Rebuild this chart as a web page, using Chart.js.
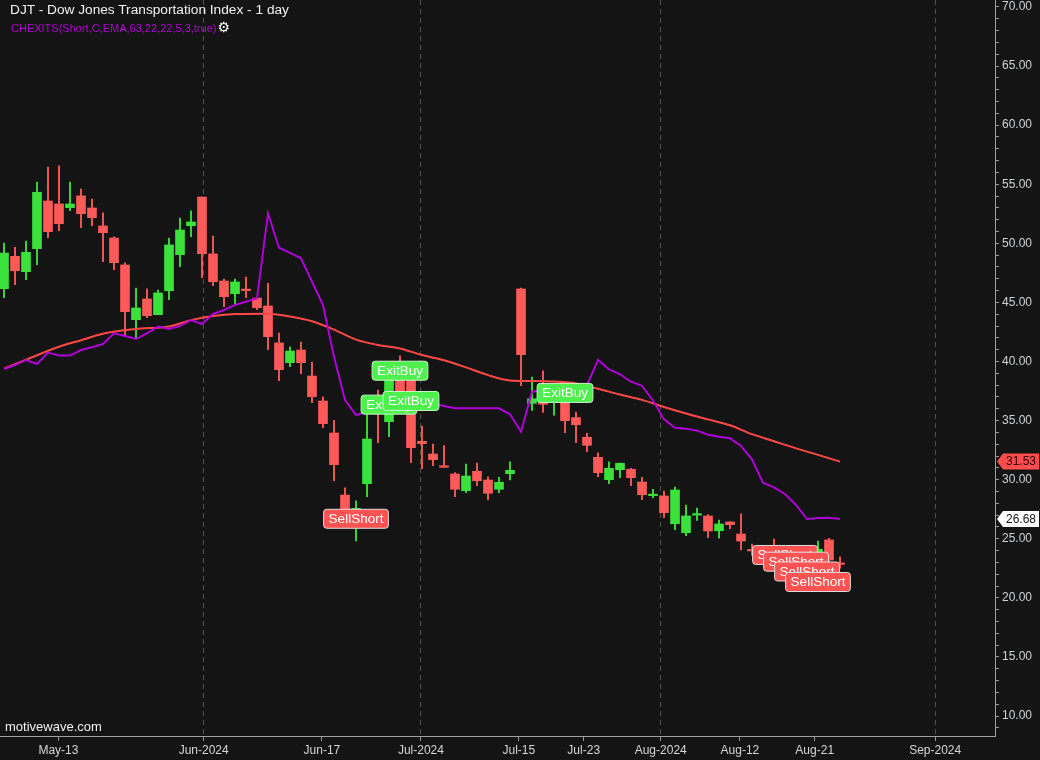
<!DOCTYPE html>
<html>
<head>
<meta charset="utf-8">
<script src="https://cdn.jsdelivr.net/npm/chart.js@4.4.1/dist/chart.umd.min.js"></script>
<style>
  html, body { margin: 0; padding: 0; background: #141414; }
  #wrap { position: relative; width: 1040px; height: 760px; overflow: hidden; }
  .txt { position: absolute; font-family: "Liberation Sans", Arial, sans-serif; white-space: nowrap; }
  #title { left: 10px; top: 2px; font-size: 13.7px; line-height: 16px; color: #f2f2f2; }
  #study { left: 11px; top: 20px; font-size: 11px; line-height: 14px; color: #b400d4; }
  #gear { color: #ffffff; font-size: 14px; font-family: "DejaVu Sans", sans-serif; margin-left: 1px; }
  #brand { left: 5px; top: 719px; font-size: 13px; line-height: 16px; color: #f0f0f0; }
</style>
</head>
<body>
<div id="wrap">
  <canvas id="chart"></canvas>
  <div class="txt" id="title">DJT - Dow Jones Transportation Index - 1 day</div>
  <div class="txt" id="study">CHEXITS(Short,C,EMA,63,22,22,5,3,true)<span id="gear">⚙</span></div>
  <div class="txt" id="brand">motivewave.com</div>
</div>
<script>
// daily bars, index 0 = first bar on screen
const opens  = [46.16, 48.90, 47.60, 49.55, 53.58, 53.33, 53.02, 54.01, 52.99, 51.47,
                50.45, 48.17, 43.54, 45.29, 43.96, 45.99, 49.04, 51.49, 53.92, 49.10,
                46.81, 45.74, 46.05, 45.37, 44.70, 41.57, 39.90, 40.97, 38.77, 36.66,
                33.95, 28.70, 26.60, 29.66, 36.90, 34.91, 39.20, 38.60, 33.25, 32.17,
                31.08, 30.48, 29.07, 30.71, 29.97, 29.19, 30.51, 46.14, 36.46, 36.45,
                36.60, 36.80, 35.25, 33.59, 31.89, 30.00, 30.84, 30.88, 29.80, 28.65,
                28.62, 26.27, 25.51, 27.00, 26.93, 25.68, 26.42, 25.40, 24.02, 24.10,
                24.20, 24.00, 23.80, 23.60, 23.70, 24.90, 22.95];
const highs  = [50.03, 49.66, 50.20, 55.19, 56.46, 56.55, 55.19, 54.60, 53.75, 52.57,
                50.54, 48.34, 46.22, 46.14, 46.05, 50.45, 52.14, 52.74, 53.92, 50.62,
                46.98, 46.98, 47.15, 45.40, 46.62, 42.41, 41.23, 41.65, 39.96, 37.00,
                35.03, 29.30, 28.20, 35.56, 37.59, 39.80, 40.47, 39.30, 34.54, 33.02,
                32.88, 30.59, 31.33, 31.41, 30.25, 30.20, 31.50, 46.22, 38.69, 39.22,
                37.80, 37.20, 35.73, 33.92, 32.28, 31.50, 31.40, 30.96, 30.20, 29.19,
                29.04, 29.38, 27.86, 27.60, 27.04, 26.59, 26.45, 27.10, 24.54, 24.40,
                24.98, 24.30, 24.10, 24.20, 24.81, 25.04, 23.48];
const lows   = [45.40, 46.50, 46.92, 48.19, 50.48, 51.07, 52.76, 51.32, 51.49, 48.45,
                47.77, 42.10, 42.02, 43.71, 43.96, 45.23, 48.02, 50.56, 47.09, 46.42,
                44.64, 44.81, 45.40, 44.38, 41.00, 38.38, 39.56, 38.97, 36.51, 34.40,
                29.91, 27.00, 24.81, 28.56, 33.13, 33.64, 36.00, 31.44, 30.93, 31.18,
                31.05, 28.56, 28.90, 29.49, 28.28, 28.90, 29.97, 37.95, 35.87, 35.70,
                35.45, 33.98, 33.13, 32.37, 30.25, 29.66, 30.17, 29.49, 28.31, 28.45,
                26.78, 25.77, 25.26, 26.56, 25.09, 25.04, 25.85, 24.05, 23.60, 23.60,
                23.60, 23.50, 23.30, 23.30, 23.40, 23.00, 22.50];
const closes = [49.18, 47.68, 49.24, 54.32, 50.99, 51.66, 53.33, 52.51, 52.17, 50.90,
                48.36, 44.22, 44.53, 43.88, 45.80, 49.86, 51.13, 51.81, 49.12, 46.75,
                45.48, 46.73, 46.00, 44.55, 42.10, 39.31, 40.89, 39.90, 37.02, 34.74,
                31.27, 27.40, 27.57, 33.44, 35.80, 39.00, 36.60, 32.71, 33.05, 31.69,
                31.05, 29.19, 30.31, 29.91, 28.85, 29.78, 30.79, 40.58, 36.85, 36.38,
                37.20, 34.99, 34.65, 32.91, 30.59, 30.96, 31.39, 30.17, 28.73, 28.70,
                27.21, 29.13, 26.93, 27.06, 25.66, 26.25, 26.19, 24.81, 23.97, 23.90,
                24.00, 23.80, 23.60, 23.90, 24.11, 23.20, 22.83];

// EMA(63) read at a subset of bars
const emaIdx = [0, 2, 5, 7, 9, 12, 15, 17, 19, 21, 24, 26, 28, 30, 32, 34, 36, 38, 40,
                42, 44, 46, 48, 50, 52, 54, 56, 58, 60, 62, 64, 66, 68, 70, 72, 74, 76];
const emaVal = [39.40, 40.15, 41.25, 41.80, 42.35, 42.75, 42.97, 43.50, 43.85, 44.02,
                44.05, 43.80, 43.40, 42.70, 41.85, 41.40, 41.10, 40.55, 40.10, 39.50,
                38.85, 38.40, 38.35, 38.30, 38.15, 37.70, 37.20, 36.75, 36.15, 35.60,
                35.10, 34.60, 33.85, 33.25, 32.65, 32.10, 31.53];

// CHEXITS line, one value per bar
const exitLine = [39.35, 39.70, 40.13, 39.79, 40.75, 40.50, 40.50, 40.97, 41.20, 41.48,
                  42.39, 42.15, 41.90, 42.39, 42.95, 42.75, 43.00, 43.51, 43.17, 44.02,
                  44.36, 44.78, 45.06, 45.35, 52.54, 49.63, 49.20, 48.73, 46.75, 44.78,
                  40.40, 36.74, 35.47, 35.75, 35.90, 36.20, 36.50, 36.60, 36.60, 36.45,
                  36.24, 36.04, 36.04, 36.04, 36.04, 36.04, 35.53, 34.06, 37.45, 37.55,
                  37.65, 37.75, 37.85, 38.00, 40.13, 39.34, 38.92, 38.29, 37.95, 36.70,
                  35.10, 34.40, 34.30, 34.15, 33.80, 33.64, 33.50, 32.85, 31.72, 29.75,
                  29.35, 28.79, 27.86, 26.67, 26.76, 26.78, 26.68];

// time axis labels (bar index positions)
const tickPos   = [4.95, 18.15, 28.9, 37.9, 46.8, 52.7, 59.7, 66.9, 73.7, 84.65];
const tickText  = ['May-13', 'Jun-2024', 'Jun-17', 'Jul-2024', 'Jul-15', 'Jul-23',
                   'Aug-2024', 'Aug-12', 'Aug-21', 'Sep-2024'];
const tickMonth = [false, true, false, true, false, false, true, false, false, true];

// signal markers
const sigIdx   = [32, 35, 36, 37, 51, 71, 72, 73, 74];
const sigPrice = [26.69, 36.35, 39.22, 36.66, 37.34, 23.63, 23.06, 22.23, 21.34];
const sigText  = ['SellShort', 'ExitBuy', 'ExitBuy', 'ExitBuy', 'ExitBuy',
                  'SellShort', 'SellShort', 'SellShort', 'SellShort'];

const UP = '#3ce23c';
const DOWN = '#ff5a5a';
const FONT = '"Liberation Sans", Arial, sans-serif';

Chart.defaults.font.family = FONT;

const barColors = opens.map((o, i) => closes[i] >= o ? UP : DOWN);

const signalLabels = {
  id: 'signalLabels',
  afterDatasetsDraw(chart) {
    const {ctx, scales: {x, y}} = chart;
    ctx.save();
    ctx.font = '13.5px ' + FONT;
    ctx.textAlign = 'center';
    ctx.textBaseline = 'middle';
    sigIdx.forEach((idx, k) => {
      const cx = x.getPixelForValue(idx);
      const cy = y.getPixelForValue(sigPrice[k]);
      const w = ctx.measureText(sigText[k]).width + 10;
      const h = 19;
      const buy = sigText[k] === 'ExitBuy';
      ctx.beginPath();
      ctx.roundRect(cx - w / 2, cy - h / 2, w, h, 3);
      ctx.fillStyle = buy ? '#4ef04e' : '#ff5252';
      ctx.fill();
      ctx.lineWidth = 1;
      ctx.strokeStyle = buy ? '#c8f5c8' : '#dddddd';
      ctx.stroke();
      ctx.fillStyle = '#ffffff';
      ctx.fillText(sigText[k], cx, cy + 0.5);
    });
    ctx.restore();
  }
};

const valueTags = {
  id: 'valueTags',
  afterDraw(chart) {
    const {ctx, scales: {y}} = chart;
    const tags = [
      [emaVal[emaVal.length - 1], '#ff4d4d', '#2a0000'],
      [exitLine[exitLine.length - 1], '#ffffff', '#111111']
    ];
    ctx.save();
    ctx.font = '12px ' + FONT;
    ctx.textAlign = 'right';
    ctx.textBaseline = 'middle';
    tags.forEach(([v, bg, fg]) => {
      const py = y.getPixelForValue(v);
      const x0 = y.left + 2;
      ctx.beginPath();
      ctx.moveTo(x0, py);
      ctx.lineTo(x0 + 6, py - 8);
      ctx.lineTo(1039, py - 8);
      ctx.lineTo(1039, py + 8);
      ctx.lineTo(x0 + 6, py + 8);
      ctx.closePath();
      ctx.fillStyle = bg;
      ctx.fill();
      ctx.fillStyle = fg;
      ctx.fillText(v.toFixed(2), 1036, py + 0.5);
    });
    ctx.restore();
  }
};

new Chart(document.getElementById('chart'), {
  type: 'bar',
  data: {
    datasets: [
      {
        type: 'line',
        data: emaIdx.map((x, k) => ({x: x, y: emaVal[k]})),
        borderColor: '#ff4848',
        borderWidth: 2,
        pointRadius: 0,
        cubicInterpolationMode: 'monotone',
        order: 2
      },
      {
        type: 'line',
        data: exitLine.map((v, i) => ({x: i, y: v})),
        borderColor: '#b000d8',
        borderWidth: 2,
        pointRadius: 0,
        tension: 0,
        order: 1
      },
      {
        data: opens.map((o, i) => ({x: i, y: [o, closes[i]]})),
        backgroundColor: barColors,
        barThickness: 9,
        minBarLength: 1.5,
        grouped: false,
        borderWidth: 0,
        order: 3
      },
      {
        data: lows.map((l, i) => ({x: i, y: [l, highs[i]]})),
        backgroundColor: barColors,
        barThickness: 1.2,
        grouped: false,
        borderWidth: 0,
        order: 4
      }
    ]
  },
  options: {
    responsive: true,
    maintainAspectRatio: false,
    animation: false,
    layout: { padding: 0 },
    plugins: {
      legend: { display: false },
      tooltip: { enabled: false }
    },
    scales: {
      x: {
        type: 'linear',
        min: -0.364,
        max: 90.09,
        offset: false,
        afterBuildTicks: s => { s.ticks = tickPos.map(v => ({value: v})); },
        afterFit: s => { s.height = 24; s.paddingLeft = 0; s.paddingRight = 0; },
        grid: {
          offset: false,
          color: c => tickMonth[c.index] ? '#505050' : 'rgba(0,0,0,0)',
          lineWidth: 1,
          tickColor: '#9a9a9a',
          tickLength: 5
        },
        border: { color: '#a0a0a0', dash: [5, 4] },
        ticks: {
          autoSkip: false,
          maxRotation: 0,
          padding: 2,
          color: '#d6d6d6',
          font: { size: 12 },
          callback: (v, i) => tickText[i]
        }
      },
      y: {
        type: 'linear',
        position: 'right',
        min: 8.31,
        max: 70.59,
        afterBuildTicks: s => {
          const t = [];
          for (let v = 9; v <= 70; v++) t.push({value: v});
          s.ticks = t;
        },
        afterFit: s => { s.width = 45; s.paddingTop = 0; s.paddingBottom = 0; },
        grid: { drawOnChartArea: false, tickLength: 4, tickColor: '#9a9a9a' },
        border: { color: '#a0a0a0' },
        ticks: {
          autoSkip: false,
          padding: 3,
          color: '#cfd3d6',
          font: { size: 12 },
          callback: v => v % 5 === 0 ? v.toFixed(2) : ''
        }
      }
    }
  },
  plugins: [signalLabels, valueTags]
});
</script>
</body>
</html>
